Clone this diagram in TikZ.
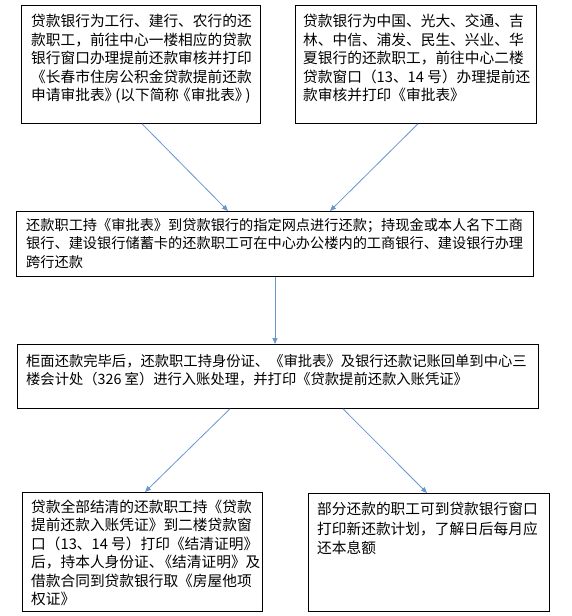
\documentclass[tikz,border=0pt]{standalone}
\usepackage{fontspec}
\newfontfamily\cjk{Noto Sans CJK SC}
\usetikzlibrary{arrows.meta}
\definecolor{arrowblue}{RGB}{104,150,206}
\tikzset{
  box/.style={draw=black, line width=0.8pt, inner sep=0pt, anchor=north west, fill=white},
  txt/.style={inner sep=0pt, anchor=north west, align=left},
  arr/.style={draw=arrowblue, line width=0.8pt, -{Triangle[length=6pt,width=5pt]}}
}
\begin{document}
\begin{tikzpicture}[x=1pt,y=-1pt]
\useasboundingbox (0,0) rectangle (571,616);
% boxes
\node[box, minimum width=239pt, minimum height=118pt] (b1) at (21,5) {};
\node[box, minimum width=241pt, minimum height=118pt] (b2) at (295,5) {};
\node[box, minimum width=517pt, minimum height=65pt] (b3) at (16,211) {};
\node[box, minimum width=521pt, minimum height=64pt] (b4) at (17,344) {};
\node[box, minimum width=240pt, minimum height=119pt] (b5) at (22,492) {};
\node[box, minimum width=241pt, minimum height=118pt] (b6) at (308,493) {};
% texts
\node[txt, font=\cjk\fontsize{14.7}{18.5}\selectfont] (t1) at ([xshift=10pt,yshift=-9pt]b1.north west)
  {贷款银行为工行、建行、农行的还\\款职工，前往中心一楼相应的贷款\\银行窗口办理提前还款审核并打印\\《长春市住房公积金贷款提前还款\\申请审批表》\kern-4pt(以下简称\kern-3pt《审批表》\kern-4pt)};
\node[txt, font=\cjk\fontsize{14.7}{18.5}\selectfont] (t2) at ([xshift=8pt,yshift=-9pt]b2.north west)
  {贷款银行为中国、光大、交通、吉\\林、中信、浦发、民生、兴业、华\\夏银行的还款职工，前往中心二楼\\贷款窗口（13、14 号）办理提前还\\款审核并打印《审批表》};
\node[txt, font=\cjk\fontsize{14.2}{18.5}\selectfont] (t3) at ([xshift=10pt,yshift=-7pt]b3.north west)
  {还款职工持《审批表》到贷款银行的指定网点进行还款；持现金或本人名下工商\\银行、建设银行储蓄卡的还款职工可在中心办公楼内的工商银行、建设银行办理\\跨行还款};
\node[txt, font=\cjk\fontsize{14.3}{18.5}\selectfont] (t4) at ([xshift=9pt,yshift=-10pt]b4.north west)
  {柜面还款完毕后，还款职工持身份证、《审批表》及银行还款记账回单到中心三\\楼会计处（326 室）进行入账处理，并打印《贷款提前还款入账凭证》};
\node[txt, font=\cjk\fontsize{14.7}{18.5}\selectfont] (t5) at ([xshift=9pt,yshift=-7.5pt]b5.north west)
  {贷款全部结清的还款职工持《贷款\\提前还款入账凭证》到二楼贷款窗\\口（13、14 号）打印《结清证明》\\后，持本人身份证、\kern-6pt《结清证明》及\\借款合同到贷款银行取《房屋他项\\权证》};
\node[txt, font=\cjk\fontsize{14.7}{19.5}\selectfont] (t6) at ([xshift=9pt,yshift=-9pt]b6.north west)
  {部分还款的职工可到贷款银行窗口\\打印新还款计划，了解日后每月应\\还本息额};
% connectors
\draw[arr] ([xshift=121pt]b1.south west) -- ([xshift=212pt]b3.north west);
\draw[arr] ([xshift=123pt]b2.south west) -- ([xshift=314pt]b3.north west);
\draw[arr] ([xshift=259pt]b3.south west) -- ([xshift=258pt]b4.north west);
\draw[arr] ([xshift=213pt]b4.south west) -- ([xshift=123pt]b5.north west);
\draw[arr] ([xshift=326pt]b4.south west) -- ([xshift=119pt]b6.north west);
\end{tikzpicture}
\end{document}
